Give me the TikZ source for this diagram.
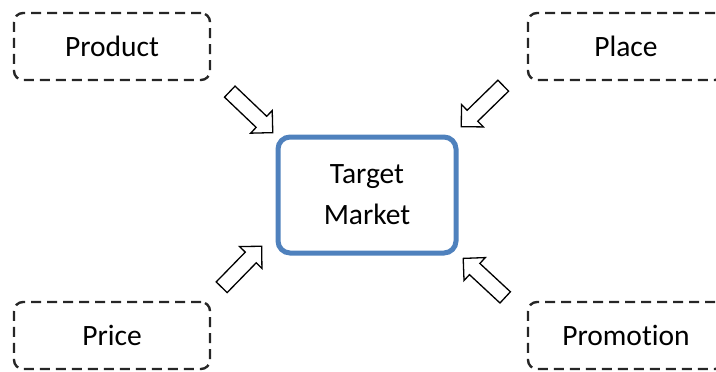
\documentclass[tikz,border=0pt]{standalone}
\usepackage{fontspec}
\setmainfont{Carlito}[Ligatures=NoCommon]
\usetikzlibrary{shapes.arrows,calc}
\definecolor{officeblue}{RGB}{79,129,189}
\tikzset{
  dbox/.style={draw=black!85, line width=2.4pt, dash pattern=on 10pt off 6pt, rounded corners=9pt,
    minimum width=196pt, minimum height=67pt, inner sep=0pt, font=\fontsize{29.5}{34}\selectfont},
  tbox/.style={draw=officeblue, line width=5pt, rounded corners=12pt,
    minimum width=178pt, minimum height=116pt, inner sep=0pt, align=center,
    font=\fontsize{29.5}{41}\selectfont},
  barrow/.style={single arrow, draw=black, fill=white, line width=1.3pt, inner sep=7pt,
    single arrow head extend=8pt, single arrow head indent=0pt, shape border uses incircle=false},
}
\newcommand{\blockarrow}[2]{%
  \path let \p1=(#1), \p2=(#2), \n1={atan2(\y2-\y1,\x2-\x1)}, \n2={veclen(\x2-\x1,\y2-\y1)} in
    node[barrow, minimum height=\n2, rotate=\n1] at ($(#1)!0.5!(#2)$) {};}
\begin{document}
\begin{tikzpicture}[x=1pt,y=-1pt]
\clip (0,0) rectangle (716,372);
\node[dbox] (product) at (112,46.5) {Product};
\node[dbox] (place) at (626,46.5) {Place};
\node[dbox] (price) at (112,335.5) {Price};
\node[dbox] (promo) at (626,335.5) {Promotion};
\node[tbox] (tm) at (367,195) {Target\\Market};
\coordinate (a1) at (227,89);  \coordinate (b1) at (270,130);
\coordinate (a2) at (506,83);  \coordinate (b2) at (464,124);
\coordinate (a3) at (219,290); \coordinate (b3) at (259,249);
\coordinate (a4) at (508,300); \coordinate (b4) at (466,261);
\blockarrow{a1}{b1}
\blockarrow{a2}{b2}
\blockarrow{a3}{b3}
\blockarrow{a4}{b4}
\end{tikzpicture}
\end{document}
